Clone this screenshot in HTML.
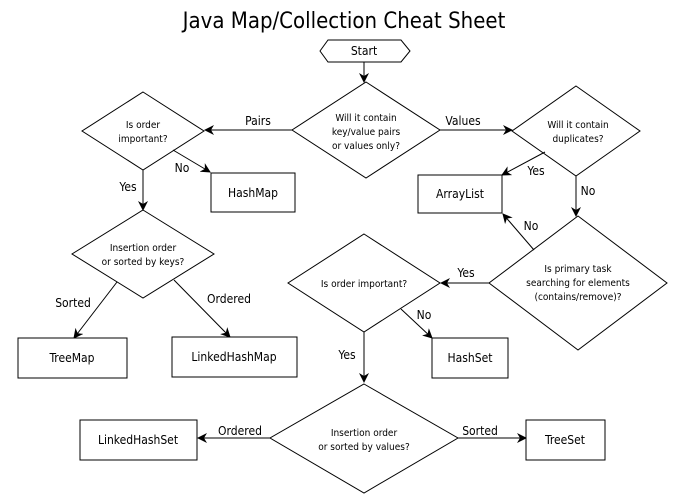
<!DOCTYPE html>
<html><head><meta charset="utf-8"><style>
html,body{margin:0;padding:0;background:#fff;}
svg{display:block;font-family:"DejaVu Sans Condensed","DejaVu Sans","Liberation Sans",sans-serif;}
.s{fill:#fff;stroke:#000;stroke-width:1;}
.l{stroke:#000;stroke-width:1;fill:none;marker-end:url(#a);}
.d{font-size:10px;text-anchor:middle;}
.b{font-size:12px;text-anchor:middle;}
</style></head><body>
<svg width="689" height="500" viewBox="0 0 689 500">
<defs><marker id="a" markerWidth="10" markerHeight="10" refX="9" refY="5" orient="auto" markerUnits="userSpaceOnUse"><path d="M0,0 L10,5 L0,10 L3,5z" fill="#000"/></marker></defs>
<text x="344" y="28" font-size="22" text-anchor="middle">Java Map/Collection Cheat Sheet</text>
<polygon class="s" points="320,51 328,40 401,40 410,51 401,62 328,62"/>
<text class="b" x="364" y="55">Start</text>
<line class="l" x1="364" y1="62" x2="364" y2="82"/>
<polygon class="s" points="366,82 440,130 366,178 292,130"/>
<text class="d" x="366" y="121">Will it contain</text><text class="d" x="366" y="135">key/value pairs</text><text class="d" x="366" y="149">or values only?</text>
<line class="l" x1="292" y1="130" x2="205" y2="130"/><text class="b" x="258" y="125">Pairs</text>
<line class="l" x1="440" y1="130" x2="512" y2="130"/><text class="b" x="463" y="125">Values</text>
<polygon class="s" points="143,92 204,131 143,170 82,131"/>
<text class="d" x="143" y="128">Is order</text><text class="d" x="143" y="142">important?</text>
<line class="l" x1="173" y1="150" x2="210" y2="172"/><text class="b" x="182" y="172">No</text>
<rect class="s" x="211" y="173" width="84" height="39"/><text class="b" x="253" y="197">HashMap</text>
<line class="l" x1="143" y1="170" x2="143" y2="210"/><text class="b" x="128" y="191">Yes</text>
<polygon class="s" points="143,210 214,254 143,298 72,254"/>
<text class="d" x="143" y="251">Insertion order</text><text class="d" x="143" y="265">or sorted by keys?</text>
<line class="l" x1="117" y1="282" x2="74" y2="338"/><text class="b" x="73" y="307">Sorted</text>
<line class="l" x1="174" y1="280" x2="230" y2="337"/><text class="b" x="229" y="303">Ordered</text>
<rect class="s" x="18" y="338" width="109" height="40"/><text class="b" x="72" y="362">TreeMap</text>
<rect class="s" x="172" y="337" width="125" height="40"/><text class="b" x="234" y="361">LinkedHashMap</text>
<polygon class="s" points="576,86 640,131 576,176 512,131"/>
<text class="d" x="578" y="128">Will it contain</text><text class="d" x="578" y="142">duplicates?</text>
<line class="l" x1="545" y1="152" x2="502" y2="175"/><text class="b" x="536" y="175">Yes</text>
<rect class="s" x="418" y="175" width="84" height="38"/><text class="b" x="460" y="198">ArrayList</text>
<line class="l" x1="576" y1="176" x2="576" y2="216"/><text class="b" x="588" y="195">No</text>
<polygon class="s" points="578,216 667,283 578,350 489,283"/>
<text class="d" x="578" y="272">Is primary task</text><text class="d" x="578" y="286">searching for elements</text><text class="d" x="578" y="300">(contains/remove)?</text>
<line class="l" x1="534" y1="250" x2="503" y2="214"/><text class="b" x="531" y="230">No</text>
<line class="l" x1="489" y1="283" x2="441" y2="283"/><text class="b" x="466" y="277">Yes</text>
<polygon class="s" points="364,234 440,283 364,332 288,283"/>
<text class="d" x="364" y="287">Is order important?</text>
<line class="l" x1="401" y1="309" x2="432" y2="338"/><text class="b" x="424" y="319">No</text>
<rect class="s" x="432" y="338" width="76" height="40"/><text class="b" x="470" y="362">HashSet</text>
<line class="l" x1="364" y1="332" x2="364" y2="382"/><text class="b" x="347" y="359">Yes</text>
<polygon class="s" points="364,384 458,438 364,493 270,438"/>
<text class="d" x="364" y="436">Insertion order</text><text class="d" x="364" y="450">or sorted by values?</text>
<line class="l" x1="270" y1="438" x2="198" y2="438"/><text class="b" x="240" y="435">Ordered</text>
<line class="l" x1="458" y1="438" x2="526" y2="438"/><text class="b" x="480" y="435">Sorted</text>
<rect class="s" x="80" y="420" width="117" height="40"/><text class="b" x="138" y="444">LinkedHashSet</text>
<rect class="s" x="526" y="420" width="79" height="40"/><text class="b" x="565" y="444">TreeSet</text>
</svg>
</body></html>
